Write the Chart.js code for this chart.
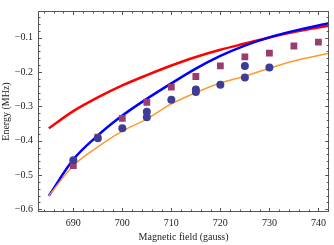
<!DOCTYPE html>
<html>
<head>
<meta charset="utf-8">
<script src="https://cdn.jsdelivr.net/npm/chart.js@4/dist/chart.umd.min.js"></script>
<style>
  html, body { margin: 0; padding: 0; background: #fff; }
  #wrap { width: 334px; height: 245px; }
</style>
</head>
<body>
<div id="wrap"><canvas id="chart"></canvas></div>
<script>
// curves (field in gauss, energy in MHz)
const curveField = [685, 690, 695, 700, 705, 710, 715, 720, 725, 730, 735, 740, 742.2];
const redEnergy = [-0.364, -0.314, -0.274, -0.239, -0.209, -0.181, -0.156, -0.135, -0.117, -0.099, -0.083, -0.070, -0.065];
const blueEnergy = [-0.561, -0.455, -0.385, -0.327, -0.278, -0.233, -0.190, -0.153, -0.123, -0.099, -0.080, -0.064, -0.058];
const orangeEnergy = [-0.561, -0.473, -0.418, -0.372, -0.337, -0.293, -0.260, -0.232, -0.212, -0.189, -0.168, -0.152, -0.145];

// measured points
const circleField = [690, 695, 700, 705, 705, 710, 715, 715, 720, 725, 725, 730];
const circleEnergy = [-0.457, -0.393, -0.364, -0.316, -0.332, -0.281, -0.251, -0.258, -0.237, -0.182, -0.216, -0.187];
const squareField = [690, 695, 700, 705, 710, 715, 720, 725, 730, 735, 740];
const squareEnergy = [-0.473, -0.390, -0.335, -0.288, -0.244, -0.213, -0.182, -0.156, -0.145, -0.124, -0.113];

const fieldTicks = [690, 700, 710, 720, 730, 740];
const energyTicks = [-0.6, -0.5, -0.4, -0.3, -0.2, -0.1];
const fieldMinorStep = 2;
const energyMinorStep = 0.02;

const pts = (xs, ys) => xs.map((x, i) => ({ x, y: ys[i] }));
const fmt = (v) => (v < 0 ? '\u2212' : '') + Math.abs(v).toFixed(1);
const serif = "'Liberation Serif', 'DejaVu Serif', serif";

const frameTicks = {
    id: 'frameTicks',
    afterDraw(chart) {
        const { ctx, chartArea: a, scales: { x, y } } = chart;
        ctx.save();
        ctx.strokeStyle = '#555';
        ctx.lineWidth = 1;
        ctx.strokeRect(Math.round(a.left) + 0.5, Math.round(a.top) + 0.5,
            Math.round(a.right - a.left) - 1, Math.round(a.bottom - a.top) - 1);
        ctx.beginPath();
        for (let v = Math.ceil(x.min / fieldMinorStep) * fieldMinorStep; v <= x.max; v += fieldMinorStep) {
            const px = Math.round(x.getPixelForValue(v)) + 0.5;
            const len = v % 10 === 0 ? 4 : 2.5;
            ctx.moveTo(px, a.bottom); ctx.lineTo(px, a.bottom - len);
            ctx.moveTo(px, a.top); ctx.lineTo(px, a.top + len);
        }
        for (let k = Math.ceil(y.min / energyMinorStep); k * energyMinorStep <= y.max; k++) {
            const py = Math.round(y.getPixelForValue(k * energyMinorStep)) + 0.5;
            const len = k % 5 === 0 ? 4 : 2.5;
            ctx.moveTo(a.left, py); ctx.lineTo(a.left + len, py);
            ctx.moveTo(a.right, py); ctx.lineTo(a.right - len, py);
        }
        ctx.stroke();
        ctx.restore();
    }
};

new Chart(document.getElementById('chart').getContext('2d'), {
    type: 'scatter',
    data: {
        datasets: [
            { data: pts(circleField, circleEnergy), pointStyle: 'circle', pointRadius: 4,
              backgroundColor: '#3d3d99', borderWidth: 0, order: 0 },
            { data: pts(squareField, squareEnergy), pointStyle: 'rect', pointRadius: 4.8,
              backgroundColor: '#993d70', borderWidth: 0, order: 0 },
            { type: 'line', data: pts(curveField, orangeEnergy), borderColor: '#ff9a2e', borderWidth: 1.5,
              pointRadius: 0, cubicInterpolationMode: 'monotone', fill: false, order: 1 },
            { type: 'line', data: pts(curveField, blueEnergy), borderColor: '#0000ff', borderWidth: 2.5,
              pointRadius: 0, cubicInterpolationMode: 'monotone', fill: false, order: 1 },
            { type: 'line', data: pts(curveField, redEnergy), borderColor: '#ff0000', borderWidth: 2.5,
              pointRadius: 0, cubicInterpolationMode: 'monotone', fill: false, order: 1 }
        ]
    },
    options: {
        responsive: true,
        maintainAspectRatio: false,
        animation: false,
        layout: { padding: { top: 1, right: 1, left: 0, bottom: 0 } },
        plugins: { legend: { display: false }, tooltip: { enabled: false } },
        scales: {
            x: {
                type: 'linear', min: 682.8, max: 742.2,
                afterBuildTicks: (s) => { s.ticks = fieldTicks.map((v) => ({ value: v })); },
                afterFit: (s) => { s.height = 33; },
                grid: { display: false, drawTicks: false },
                border: { display: false },
                ticks: { padding: 5, color: '#222', font: { family: serif, size: 10 }, maxRotation: 0 },
                title: { display: true, text: 'Magnetic field (gauss)', color: '#222',
                         font: { family: serif, size: 10 }, padding: { top: 0, bottom: 2 } }
            },
            y: {
                type: 'linear', min: -0.608, max: -0.022,
                afterBuildTicks: (s) => { s.ticks = energyTicks.map((v) => ({ value: v })); },
                afterFit: (s) => { s.width = 38; },
                grid: { display: false, drawTicks: false },
                border: { display: false },
                ticks: { padding: 5, color: '#222', font: { family: serif, size: 10 }, callback: fmt },
                title: { display: true, text: 'Energy (MHz)', color: '#222',
                         font: { family: serif, size: 10 }, padding: { top: 0, bottom: 0 } }
            }
        }
    },
    plugins: [frameTicks]
});
</script>
</body>
</html>
